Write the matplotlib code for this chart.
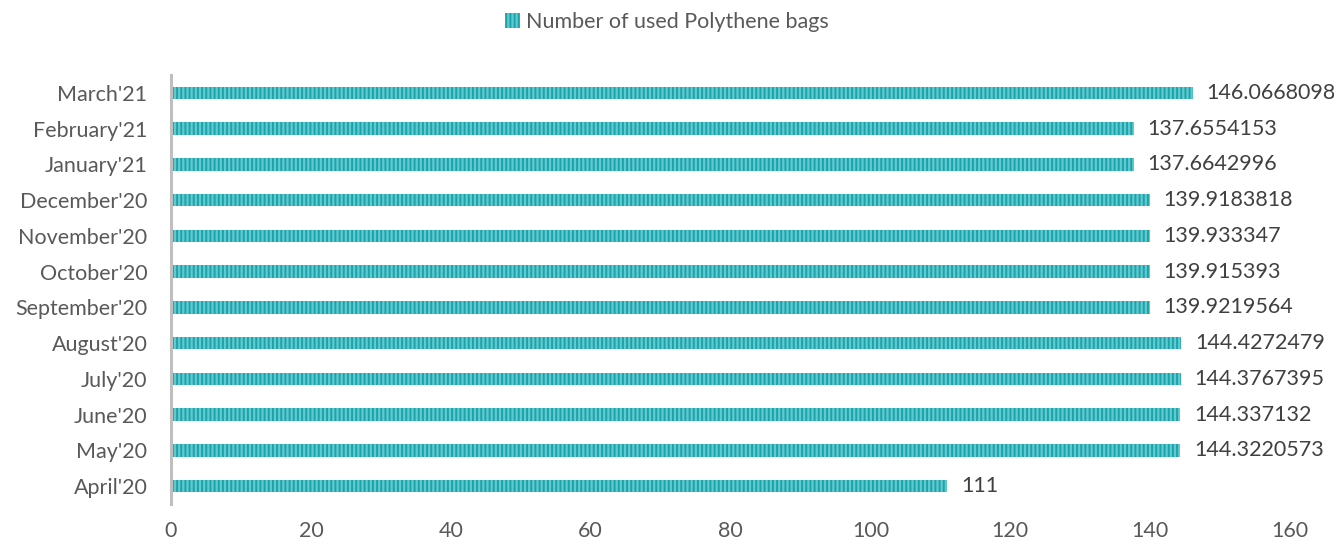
import matplotlib.pyplot as plt
from matplotlib.patches import Patch

# Monatliche Daten (von unten nach oben gezeichnet)
months = ["April'20", "May'20", "June'20", "July'20", "August'20", "September'20",
          "October'20", "November'20", "December'20", "January'21", "February'21", "March'21"]
bags = [111, 144.3220573, 144.337132, 144.3767395, 144.4272479, 139.9219564,
        139.915393, 139.933347, 139.9183818, 137.6642996, 137.6554153, 146.0668098]
bag_labels = ["111", "144.3220573", "144.337132", "144.3767395", "144.4272479", "139.9219564",
              "139.915393", "139.933347", "139.9183818", "137.6642996", "137.6554153", "146.0668098"]
x_ticks = [0, 20, 40, 60, 80, 100, 120, 140, 160]

light = "#62cacf"
dark = "#1ba3ab"
text_col = "#595959"

plt.rcParams["font.family"] = ["Lato", "DejaVu Sans"]
plt.rcParams["hatch.linewidth"] = 1.4
plt.rcParams["hatch.color"] = dark

fig = plt.figure(figsize=(13.34, 5.46), dpi=100)
ax = fig.add_axes([171 / 1334, 42 / 546, (1290 - 171) / 1334, 429 / 546])

y = range(len(months))
ax.barh(y, bags, height=0.35, color=light, hatch="||||", edgecolor=dark, linewidth=0)

# Wertebeschriftung rechts neben jedem Balken
for yi, v, lab in zip(y, bags, bag_labels):
    ax.text(v + 2.0, yi, lab, va="center", ha="left", fontsize=15.5, color="#404040")

ax.set_xlim(0, 160)
ax.set_ylim(-0.5, len(months) - 0.5)
ax.set_yticks(list(y))
ax.set_yticklabels(months)
ax.set_xticks(x_ticks)
ax.tick_params(axis="both", length=0, labelsize=15.5, labelcolor=text_col)
ax.tick_params(axis="x", pad=12)
ax.tick_params(axis="y", pad=17)

for s in ["top", "right", "bottom"]:
    ax.spines[s].set_visible(False)
ax.spines["left"].set_color("#bfbfbf")
ax.spines["left"].set_linewidth(2.2)

handle = Patch(facecolor=light, hatch="||||", edgecolor=dark, linewidth=0)
fig.legend(handles=[handle], labels=["Number of used Polythene bags"],
           loc="center", bbox_to_anchor=(667 / 1334, 1 - 22 / 546), frameon=False,
           fontsize=15.5, labelcolor=text_col, handlelength=0.7, handleheight=0.7,
           handletextpad=0.3)

fig.savefig("out.png", dpi=100)
